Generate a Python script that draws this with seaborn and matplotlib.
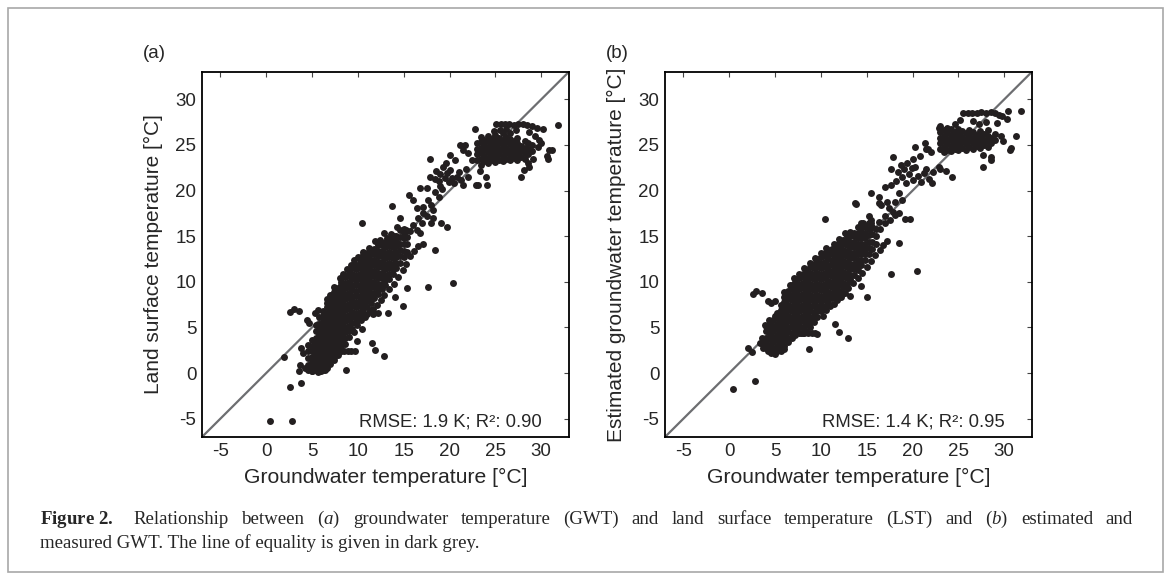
"""
Figure 2 recreation: GWT vs LST (a) and estimated vs measured GWT (b)
"""

import matplotlib
matplotlib.use("Agg")
import matplotlib.pyplot as plt
import matplotlib.patches as mpatches
import numpy as np
import pandas as pd
import seaborn as sns

# ============================================
# data (degC)
# ============================================
# panel (a): dense core, stored as columns of GWT with the LST values seen there
A_CORE_GWT = [4.6, 5.0, 5.4, 5.8, 6.2, 6.6, 7.0, 7.4, 7.8, 8.2, 8.6, 9.0, 9.4, 9.8,
              10.2, 10.6, 11.0, 11.4, 11.8, 12.2, 12.6, 13.0, 13.4, 13.8, 14.2,
              14.6, 15.0, 15.4]
A_CORE_LST = [
    [0.3, 0.9, 1.6, 2.4, 3.1],
    [0.2, 0.6, 1.2, 1.8, 2.4, 3.0, 3.6],
    [0.3, 0.9, 1.5, 2.1, 2.7, 3.3, 3.9, 4.6, 5.3],
    [0.2, 0.6, 1.2, 1.8, 2.4, 3.0, 3.6, 4.2, 4.8, 5.4, 6.1],
    [0.3, 0.9, 1.5, 2.1, 2.7, 3.3, 3.9, 4.5, 5.1, 5.7, 6.3, 6.8],
    [0.6, 1.2, 1.8, 2.4, 3.0, 3.6, 4.2, 4.8, 5.4, 6.0, 6.6, 7.2, 7.7],
    [1.0, 1.5, 2.1, 2.7, 3.3, 3.9, 4.5, 5.1, 5.7, 6.3, 6.9, 7.5, 8.1],
    [1.4, 1.8, 2.4, 3.0, 3.6, 4.2, 4.8, 5.4, 6.0, 6.6, 7.2, 7.8, 8.4, 8.9],
    [2.0, 2.7, 3.3, 3.9, 4.5, 5.1, 5.7, 6.3, 6.9, 7.5, 8.1, 8.7, 9.3],
    [2.4, 3.0, 3.6, 4.2, 4.8, 5.4, 6.0, 6.6, 7.2, 7.8, 8.4, 9.0, 9.6, 10.0],
    [3.2, 3.9, 4.5, 5.1, 5.7, 6.3, 6.9, 7.5, 8.1, 8.7, 9.3, 9.9, 10.5],
    [4.0, 4.6, 5.2, 5.8, 6.4, 7.0, 7.6, 8.2, 8.8, 9.4, 10.0, 10.6, 11.0],
    [4.8, 5.5, 6.1, 6.7, 7.3, 7.9, 8.5, 9.1, 9.7, 10.3, 10.9, 11.5],
    [5.5, 6.0, 6.6, 7.2, 7.8, 8.4, 9.0, 9.6, 10.2, 10.8, 11.4, 11.9],
    [6.1, 6.7, 7.3, 7.9, 8.5, 9.1, 9.7, 10.3, 10.9, 11.5, 12.1, 12.5],
    [6.6, 7.0, 7.6, 8.2, 8.8, 9.4, 10.0, 10.6, 11.2, 11.8, 12.4, 12.9],
    [7.2, 7.9, 8.5, 9.1, 9.7, 10.3, 10.9, 11.5, 12.1, 12.7, 13.2],
    [7.7, 8.2, 8.8, 9.4, 10.0, 10.6, 11.2, 11.8, 12.4, 13.0, 13.5],
    [8.2, 8.8, 9.4, 10.0, 10.6, 11.2, 11.8, 12.4, 13.0, 13.6],
    [8.7, 9.2, 9.8, 10.4, 11.0, 11.6, 12.2, 12.8, 13.4, 14.0],
    [9.2, 9.8, 10.4, 11.0, 11.6, 12.2, 12.8, 13.4, 14.0],
    [9.7, 10.2, 10.8, 11.4, 12.0, 12.6, 13.2, 13.8, 14.4],
    [10.3, 10.9, 11.5, 12.1, 12.7, 13.3, 13.9, 14.5],
    [10.9, 11.4, 12.0, 12.6, 13.2, 13.8, 14.4, 14.9],
    [11.5, 12.1, 12.7, 13.3, 13.9, 14.5, 15.0],
    [12.1, 12.8, 13.5, 14.2, 14.9],
    [12.7, 13.4, 14.1, 14.8, 15.4],
    [13.3, 14.1, 14.9],
]
# panel (a): warm cluster top right
A_WARM_GWT = [23.0, 23.4, 23.8, 24.2, 24.6, 25.0, 25.4, 25.8, 26.2, 26.6, 27.0,
              27.4, 27.8, 28.2, 28.6, 29.0]
A_WARM_LST = [
    [23.4, 24.0, 24.6, 25.2],
    [22.8, 23.5, 24.1, 24.7, 25.3, 25.9],
    [23.2, 23.8, 24.4, 25.0, 25.6],
    [23.0, 23.6, 24.2, 24.8, 25.4, 26.0],
    [23.3, 23.9, 24.5, 25.1, 25.7],
    [23.1, 23.7, 24.3, 24.9, 25.5, 26.1],
    [23.4, 24.0, 24.6, 25.2, 25.8],
    [23.2, 23.8, 24.4, 25.0, 25.6, 26.3],
    [23.5, 24.1, 24.7, 25.3, 25.9],
    [23.3, 23.9, 24.5, 25.1, 25.7, 26.3],
    [23.6, 24.2, 24.8, 25.4],
    [23.4, 24.0, 24.6, 25.2, 25.8],
    [23.7, 24.3, 24.9],
    [23.5, 24.1, 24.7, 25.4],
    [24.0, 24.6, 25.2],
    [24.3, 25.0],
]
# panel (a): single points away from the two clusters
A_LOOSE_GWT = [0.4, 2.8, 2.6, 3.8, 1.9, 8.7, 12.9, 11.9, 11.5, 9.9, 20.4, 17.7,
               18.4, 10.4, 13.7, 14.9, 15.4, 2.6, 3.0, 3.6, 4.4, 4.7, 5.3, 5.7,
               3.8, 4.0, 3.7, 3.6, 4.2,
               6.6, 7.0, 7.4, 8.0, 8.4, 8.8, 9.2, 9.6, 10.0, 10.6, 11.2, 11.9,
               12.4, 13.2, 13.6, 12.8, 14.3, 15.0, 15.7,
               6.9, 7.3, 7.7, 8.1, 8.5, 8.9, 9.3, 9.7, 5.0, 5.6, 6.0, 6.4,
               9.6, 9.9, 10.3, 10.5, 10.8, 11.3, 11.7, 12.1, 12.5, 12.9, 13.4,
               13.9, 14.4, 14.9, 15.3, 15.7, 16.1, 16.6, 17.1, 14.0, 13.3,
               11.0, 11.6, 12.2,
               14.6, 15.3, 16.0, 16.4, 16.8, 14.6, 13.9, 15.6, 16.0, 16.8, 17.5,
               16.4, 17.1, 18.0, 18.2, 17.1, 17.5, 18.2, 18.9, 19.1, 19.7, 18.0,
               17.0, 16.6, 17.6, 18.4,
               17.85, 18.4, 18.8, 19.0, 19.3, 19.5, 19.7, 19.9, 20.1, 20.3, 20.5,
               20.8, 21.0, 21.2, 21.5, 21.8, 22.0, 19.0, 19.6, 20.0, 21.1, 21.5,
               22.0, 20.6, 18.5, 19.2, 22.9, 23.3, 24.0, 22.5, 22.8, 21.7, 17.9,
               25.1, 25.6, 26.0, 26.5, 27.0, 27.5, 28.0, 28.5, 29.0, 29.5, 30.2,
               31.8, 29.3, 28.7, 27.3, 26.2, 25.5, 24.8, 29.8, 29.6, 30.0, 30.9,
               31.2, 30.7, 30.6, 28.7, 27.8, 28.1, 28.6, 29.1, 24.1, 23.1]
A_LOOSE_LST = [-5.2, -5.2, -1.5, -1.1, 1.8, 0.3, 1.9, 2.5, 3.3, 3.5, 9.9, 9.4,
               13.5, 16.5, 18.3, 7.3, 9.3, 6.7, 7.0, 6.8, 5.8, 5.5, 6.6, 6.9,
               2.8, 2.2, 0.9, 0.2, 0.6,
               8.1, 8.6, 9.4, 10.4, 10.9, 11.4, 11.9, 12.4, 12.7, 13.3, 13.7, 14.5,
               14.6, 14.8, 15.2, 15.4, 16.0, 15.8, 15.6,
               2.4, 2.4, 2.4, 2.4, 2.4, 2.4, 2.4, 2.4, 0.2, 0.1, 0.2, 0.3,
               4.5, 5.3, 5.8, 4.8, 6.2, 6.8, 7.0, 7.5, 8.0, 8.6, 9.2,
               9.8, 10.5, 11.3, 12.0, 12.8, 13.4, 13.9, 14.2, 8.3, 6.6,
               6.5, 6.5, 6.6,
               17.0, 15.7, 16.2, 15.7, 15.3, 15.7, 15.0, 19.5, 19.0, 20.3, 20.3,
               18.1, 18.2, 18.4, 17.9, 17.5, 17.2, 17.0, 19.3, 16.4, 16.0, 16.4,
               16.5, 17.0, 19.0, 19.8,
               23.5, 21.3, 21.0, 21.8, 22.6, 21.4, 21.9, 20.9, 22.3, 21.4, 20.8,
               21.5, 22.0, 21.2, 20.6, 22.4, 21.5, 20.5, 23.0, 23.9, 25.0, 24.5,
               24.1, 23.4, 22.2, 20.2, 20.6, 22.1, 21.5, 23.3, 26.7, 25.0, 21.5,
               27.3, 27.3, 27.3, 27.3, 27.2, 27.3, 27.3, 27.2, 27.1, 26.9, 26.8,
               27.2, 26.0, 26.4, 26.6, 26.8, 26.6, 26.5, 25.5, 24.8, 25.2, 24.4,
               24.5, 23.5, 23.8, 22.6, 21.5, 22.3, 23.0, 23.5, 20.6, 20.6]

# panel (b): dense core, columns of GWT with the estimated values seen there
B_CORE_GWT = [3.6, 4.0, 4.4, 4.8, 5.2, 5.6, 6.0, 6.4, 6.8, 7.2, 7.6, 8.0, 8.4, 8.8,
              9.2, 9.6, 10.0, 10.4, 10.8, 11.2, 11.6, 12.0, 12.4, 12.8, 13.2,
              13.6, 14.0, 14.4, 14.8, 15.2, 15.6, 16.0]
B_CORE_EST = [
    [3.3, 3.9],
    [2.7, 3.3, 3.9, 4.6, 5.2],
    [2.5, 3.1, 3.7, 4.3, 4.9, 5.4],
    [2.3, 2.8, 3.4, 4.0, 4.6, 5.2, 5.8],
    [2.4, 3.0, 3.6, 4.2, 4.8, 5.4, 6.0, 6.6],
    [2.8, 3.3, 3.9, 4.5, 5.1, 5.7, 6.3, 6.9, 7.5],
    [3.0, 3.6, 4.2, 4.8, 5.4, 6.0, 6.6, 7.2, 7.8, 8.3],
    [3.4, 3.9, 4.5, 5.1, 5.7, 6.3, 6.9, 7.5, 8.1, 8.7, 9.0],
    [3.8, 4.4, 5.0, 5.6, 6.2, 6.8, 7.4, 8.0, 8.6, 9.2, 9.6],
    [4.2, 4.7, 5.3, 5.9, 6.5, 7.1, 7.7, 8.3, 8.9, 9.5, 10.0],
    [4.4, 5.0, 5.6, 6.2, 6.8, 7.4, 8.0, 8.6, 9.2, 9.8, 10.4],
    [4.4, 5.1, 5.7, 6.3, 6.9, 7.5, 8.1, 8.7, 9.3, 9.9, 10.5, 10.9],
    [4.6, 5.3, 5.9, 6.5, 7.1, 7.7, 8.3, 8.9, 9.5, 10.1, 10.7, 11.2],
    [5.0, 5.6, 6.2, 6.8, 7.4, 8.0, 8.6, 9.2, 9.8, 10.4, 11.0, 11.6],
    [5.6, 6.1, 6.7, 7.3, 7.9, 8.5, 9.1, 9.7, 10.3, 10.9, 11.5, 12.0],
    [6.2, 6.8, 7.4, 8.0, 8.6, 9.2, 9.8, 10.4, 11.0, 11.6, 12.2, 12.5],
    [6.8, 7.3, 7.9, 8.5, 9.1, 9.7, 10.3, 10.9, 11.5, 12.1, 12.7],
    [7.4, 8.0, 8.6, 9.2, 9.8, 10.4, 11.0, 11.6, 12.2, 12.8, 13.2],
    [7.8, 8.3, 8.9, 9.5, 10.1, 10.7, 11.3, 11.9, 12.5, 13.1, 13.5],
    [8.2, 8.8, 9.4, 10.0, 10.6, 11.2, 11.8, 12.4, 13.0, 13.6],
    [8.6, 9.1, 9.7, 10.3, 10.9, 11.5, 12.1, 12.7, 13.3, 13.9],
    [9.0, 9.6, 10.2, 10.8, 11.4, 12.0, 12.6, 13.2, 13.8, 14.3],
    [9.4, 9.9, 10.5, 11.1, 11.7, 12.3, 12.9, 13.5, 14.1, 14.6],
    [9.8, 10.4, 11.0, 11.6, 12.2, 12.8, 13.4, 14.0, 14.6, 15.0],
    [10.3, 10.8, 11.4, 12.0, 12.6, 13.2, 13.8, 14.4, 15.0],
    [10.8, 11.4, 12.0, 12.6, 13.2, 13.8, 14.4, 15.0, 15.4],
    [11.3, 11.8, 12.4, 13.0, 13.6, 14.2, 14.8, 15.4],
    [11.8, 12.4, 13.0, 13.6, 14.2, 14.8, 15.4, 15.9],
    [12.4, 13.0, 13.6, 14.2, 14.8, 15.4, 16.0],
    [13.0, 13.7, 14.4, 15.1, 15.8, 16.4],
    [13.6, 14.4, 15.2, 16.0],
    [14.2, 15.0, 15.8],
]
B_WARM_GWT = [23.0, 23.4, 23.8, 24.2, 24.6, 25.0, 25.4, 25.8, 26.2, 26.6, 27.0,
              27.4, 27.8, 28.2, 28.6, 29.0]
B_WARM_EST = [
    [24.6, 25.2, 25.8, 26.4],
    [24.2, 24.8, 25.4, 26.0, 26.6],
    [24.5, 25.1, 25.7, 26.3, 26.9],
    [24.3, 24.9, 25.5, 26.1, 26.7],
    [24.6, 25.2, 25.8, 26.4],
    [24.4, 25.0, 25.6, 26.2, 26.8],
    [24.7, 25.3, 25.9, 26.5],
    [24.5, 25.1, 25.7, 26.3],
    [24.8, 25.4, 26.0, 26.6],
    [24.6, 25.2, 25.8, 26.4],
    [24.9, 25.5, 26.1],
    [24.7, 25.3, 25.9, 26.5],
    [25.0, 25.6, 26.2],
    [24.8, 25.4, 26.0, 26.6],
    [25.2, 25.8],
    [25.5, 26.2],
]
B_LOOSE_GWT = [0.4, 2.8, 2.0, 2.5, 8.7, 13.0, 12.0, 11.5, 9.6, 13.2, 15.0, 14.4,
               17.7, 20.45, 18.5, 10.5, 13.8, 14.4, 2.6, 2.95, 3.6, 4.2, 4.6, 5.0,
               3.4, 3.7, 4.2, 4.6, 5.0, 5.6, 6.0, 3.9, 4.3, 5.0,
               7.4, 7.8, 8.2, 8.6, 9.0, 9.4,
               10.2, 10.6, 11.0, 11.4, 11.8, 12.2, 12.6, 13.0, 13.5, 14.0, 14.5,
               15.0, 15.5, 15.9, 16.4, 16.8, 17.2, 16.5, 17.0, 17.5, 10.6, 11.2,
               11.8, 12.4,
               6.0, 6.6, 7.1, 7.6, 8.2, 8.8, 9.4, 10.0, 10.6, 11.4, 12.0, 12.6,
               13.2, 14.0, 14.6, 15.2,
               15.5, 16.3, 17.0, 17.7, 17.2, 18.1, 18.8, 18.5, 16.3, 16.6, 17.4,
               17.9, 18.5, 19.2, 19.7, 18.1, 17.0, 16.3, 15.5, 13.7, 15.5,
               17.9, 18.4, 18.8, 19.1, 19.4, 19.6, 19.9, 20.1, 20.3, 20.6, 20.9,
               21.2, 21.5, 21.8, 22.1, 22.2, 20.1, 20.3, 21.4, 21.7, 22.0, 20.8,
               18.7, 19.3, 23.0, 23.6, 24.3, 22.9, 22.9, 21.5, 18.2, 17.6,
               25.5, 26.0, 26.5, 27.0, 27.5, 28.0, 28.5, 29.0, 29.4, 29.7, 30.4,
               31.8, 30.3, 29.2, 25.2, 26.6, 24.6, 28.0, 27.2, 30.6, 30.7, 31.3,
               29.6, 29.9, 27.7, 28.6, 28.6, 27.7, 23.0]
B_LOOSE_EST = [-1.7, -0.9, 2.8, 2.3, 2.6, 3.9, 4.5, 5.4, 4.3, 8.4, 8.3, 9.55,
               10.9, 11.15, 14.3, 16.9, 18.5, 16.4, 8.7, 9.0, 8.75, 7.85, 7.7, 7.9,
               3.3, 2.7, 2.4, 2.2, 2.1, 2.4, 2.6, 5.3, 5.8, 6.3,
               4.5, 4.4, 4.4, 4.4, 4.4, 4.4,
               6.3, 6.9, 7.3, 7.6, 8.0, 8.3, 8.8, 9.3, 9.9, 10.4, 11.0,
               11.6, 12.3, 12.9, 13.5, 14.0, 14.5, 15.8, 16.4, 16.8, 8.7, 8.7,
               8.75, 8.8,
               8.9, 9.7, 10.4, 10.9, 11.5, 12.1, 12.6, 13.2, 13.7, 14.2, 14.7, 15.3,
               15.5, 16.0, 16.5, 17.2,
               19.7, 19.3, 20.4, 20.6, 18.8, 18.8, 19.0, 19.7, 18.6, 18.4, 18.1,
               17.7, 17.5, 16.9, 16.9, 17.3, 17.2, 16.6, 16.4, 18.6, 16.8,
               23.7, 22.0, 21.5, 22.4, 23.0, 21.8, 22.5, 21.2, 22.6, 21.6, 20.9,
               21.9, 22.4, 21.3, 20.8, 22.0, 23.5, 24.8, 25.2, 24.6, 24.2, 23.8,
               22.8, 20.8, 22.4, 22.1, 21.5, 22.6, 26.9, 24.6, 21.0, 22.4,
               28.5, 28.5, 28.5, 28.5, 28.6, 28.5, 28.6, 28.5, 28.3, 28.2, 28.7,
               28.7, 27.8, 27.4, 27.7, 27.6, 27.3, 27.5, 27.3, 24.5, 24.7, 26.0,
               26.0, 25.4, 23.9, 23.7, 23.4, 22.6, 27.1]

TICKS = [-5, 0, 5, 10, 15, 20, 25, 30]
LIMITS = (-7, 33)

PANELS = [
    {"tag": "(a)", "ylabel": "Land surface temperature [°C]",
     "stats": "RMSE: 1.9 K; R²: 0.90",
     "cols": (A_CORE_GWT, A_CORE_LST, A_WARM_GWT, A_WARM_LST),
     "loose": (A_LOOSE_GWT, A_LOOSE_LST)},
    {"tag": "(b)", "ylabel": "Estimated groundwater temperature [°C]",
     "stats": "RMSE: 1.4 K; R²: 0.95",
     "cols": (B_CORE_GWT, B_CORE_EST, B_WARM_GWT, B_WARM_EST),
     "loose": (B_LOOSE_GWT, B_LOOSE_EST)},
]

CAPTION_1 = [r"$\mathbf{Figure\ 2.}$", "Relationship", "between", r"($\mathit{a}$)",
             "groundwater", "temperature", "(GWT)", "and", "land", "surface",
             "temperature", "(LST)", "and", r"($\mathit{b}$)", "estimated", "and"]
CAPTION_2 = "measured GWT. The line of equality is given in dark grey."

DOT = "#231f20"
EQ_LINE = "#6d6e71"

sns.set_style("white")
plt.rcParams.update({
    "font.family": ["Liberation Sans", "DejaVu Sans"],
    "mathtext.fontset": "custom",
    "mathtext.rm": "Liberation Serif",
    "mathtext.it": "Liberation Serif:italic",
    "mathtext.bf": "Liberation Serif:bold",
})


def panel_frame(cols, loose):
    gx, gy = [], []
    for xs, ys in ((cols[0], cols[1]), (cols[2], cols[3])):
        for x, col in zip(xs, ys):
            gx.extend([x] * len(col))
            gy.extend(col)
    gx.extend(loose[0])
    gy.extend(loose[1])
    return pd.DataFrame({"gwt": gx, "y": gy})


fig = plt.figure(figsize=(11.71, 5.80), dpi=100)
lefts = [0.1725, 0.5679]

for left, p in zip(lefts, PANELS):
    ax = fig.add_axes([left, 0.2466, 0.3132, 0.6293])
    df = panel_frame(p["cols"], p["loose"])
    ax.plot(LIMITS, LIMITS, color=EQ_LINE, lw=1.6, zorder=1)
    sns.scatterplot(data=df, x="gwt", y="y", ax=ax, s=25, color=DOT,
                    linewidth=0, zorder=2, legend=False)
    ax.set_xlim(LIMITS)
    ax.set_ylim(LIMITS)
    ax.set_xticks(TICKS)
    ax.set_yticks(TICKS)
    ax.set_xticklabels([str(t) for t in TICKS])
    ax.set_yticklabels([str(t) for t in TICKS])
    ax.tick_params(direction="in", top=True, right=True, length=3.5, width=0.8,
                   labelsize=13.5, pad=4, color="#444444")
    for sp in ax.spines.values():
        sp.set_linewidth(1.3)
        sp.set_color("black")
    ax.set_xlabel("Groundwater temperature [°C]", fontsize=15.2)
    ax.set_ylabel(p["ylabel"], fontsize=15)
    ax.xaxis.set_label_coords(0.5, -0.085)
    ax.yaxis.set_label_coords(-0.107, 0.5)
    ax.text(0.926, 0.042, p["stats"], transform=ax.transAxes, ha="right",
            va="center", fontsize=13.3)
    ax.text(-0.16, 1.05, p["tag"], transform=ax.transAxes, ha="left",
            va="center", fontsize=13.5)

# caption: first line justified to the full width, second line left aligned
cap_kw = dict(family="Liberation Serif", fontsize=13.6, ha="left", va="center")
x0, x1 = 40 / 1171, 1133 / 1171
words = [fig.text(0, 0.105, w, **cap_kw) for w in CAPTION_1]
fig.canvas.draw()
renderer = fig.canvas.get_renderer()
widths = [w.get_window_extent(renderer).width / 1171 for w in words]
gap = (x1 - x0 - sum(widths)) / (len(words) - 1 + 0.6)
xpos = x0
for i, (w, wd) in enumerate(zip(words, widths)):
    w.set_x(xpos)
    xpos += wd + gap * (1.6 if i == 0 else 1.0)
fig.text(x0, 0.064, CAPTION_2, **cap_kw)

# thin frame round the whole figure
fig.patches.append(mpatches.Rectangle((8 / 1171, 8 / 580), 1155 / 1171, 564 / 580,
                                      transform=fig.transFigure, fill=False,
                                      edgecolor="#a8a8a8", lw=1.2))

fig.savefig("out.png", dpi=100)
